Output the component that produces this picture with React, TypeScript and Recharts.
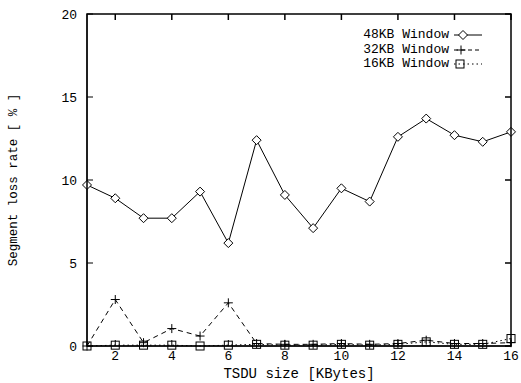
import React from "react";
import { LineChart, Line, XAxis, YAxis } from "recharts";

// TSDU sizes in KBytes
const sizes = [1, 2, 3, 4, 5, 6, 7, 8, 9, 10, 11, 12, 13, 14, 15, 16];
// Segment loss rate (%) per window size
const win48 = [9.7, 8.9, 7.7, 7.7, 9.3, 6.2, 12.4, 9.1, 7.1, 9.5, 8.7, 12.6, 13.7, 12.7, 12.3, 12.9];
const win32 = [0.0, 2.8, 0.2, 1.05, 0.6, 2.6, 0.15, 0.1, 0.1, 0.15, 0.1, 0.15, 0.35, 0.15, 0.15, 0.2];
const win16 = [0.0, 0.05, 0.05, 0.05, 0.0, 0.05, 0.1, 0.05, 0.05, 0.1, 0.05, 0.1, 0.25, 0.1, 0.1, 0.45];

const xTicks = [2, 4, 6, 8, 10, 12, 14, 16];
const yTicks = [0, 5, 10, 15, 20];
const xDomain = [1, 16];
const yDomain = [0, 20];

const data = sizes.map((s, i) => ({ x: s, w48: win48[i], w32: win32[i], w16: win16[i] }));

const FONT = "'Liberation Mono', 'DejaVu Sans Mono', monospace";

// chart geometry
const W = 521;
const H = 383;
const M = { top: 14, right: 10, bottom: 0, left: 0 };
const X_AXIS_H = 37;
const Y_AXIS_W = 87;
const plot = {
  left: M.left + Y_AXIS_W,
  right: W - M.right,
  top: M.top,
  bottom: H - M.bottom - X_AXIS_H,
};

const Diamond = ({ cx, cy }: any) => (
  <path
    d={`M${cx},${cy - 4.5} L${cx + 4.5},${cy} L${cx},${cy + 4.5} L${cx - 4.5},${cy} Z`}
    fill="#fff"
    stroke="#000"
    strokeWidth={1}
  />
);

const Plus = ({ cx, cy }: any) => (
  <path d={`M${cx - 4.5},${cy} H${cx + 4.5} M${cx},${cy - 4.5} V${cy + 4.5}`} stroke="#000" strokeWidth={1} fill="none" />
);

const Square = ({ cx, cy }: any) => (
  <rect x={cx - 4} y={cy - 4} width={8} height={8} fill="none" stroke="#000" strokeWidth={1} />
);

const legendRows = [
  { label: "48KB Window", dash: undefined, Marker: Diamond, mx: 10 },
  { label: "32KB Window", dash: "4 3", Marker: Plus, mx: 8 },
  { label: "16KB Window", dash: "1.5 3", Marker: Square, mx: 7 },
];

const LegendBox = () => (
  <div style={{ position: "absolute", top: 28, right: 38, fontFamily: FONT, fontSize: 13, color: "#000" }}>
    {legendRows.map((r) => (
      <div key={r.label} style={{ display: "flex", alignItems: "center", height: 14.5, justifyContent: "flex-end" }}>
        <span style={{ whiteSpace: "pre", lineHeight: "14px" }}>{r.label}</span>
        <svg width={30} height={12} style={{ marginLeft: 4 }}>
          <line x1={1} y1={6} x2={29} y2={6} stroke="#000" strokeWidth={1} strokeDasharray={r.dash} />
          <r.Marker cx={r.mx} cy={6} />
        </svg>
      </div>
    ))}
  </div>
);

// box around the plot, with inward ticks on the top and right edges
const Frame = () => {
  const sx = (v: number) => plot.left + ((v - xDomain[0]) / (xDomain[1] - xDomain[0])) * (plot.right - plot.left);
  const sy = (v: number) => plot.bottom - ((v - yDomain[0]) / (yDomain[1] - yDomain[0])) * (plot.bottom - plot.top);
  return (
    <svg width={W} height={H} style={{ position: "absolute", left: 0, top: 0, pointerEvents: "none", zIndex: 5 }}>
      <rect
        x={plot.left}
        y={plot.top}
        width={plot.right - plot.left}
        height={plot.bottom - plot.top}
        fill="none"
        stroke="#000"
        strokeWidth={1.5}
      />
      {xTicks.map((t) => (
        <line key={`tx-${t}`} x1={sx(t)} y1={plot.top} x2={sx(t)} y2={plot.top + 6} stroke="#000" strokeWidth={1.5} />
      ))}
      {yTicks.map((t) => (
        <line key={`ty-${t}`} x1={plot.right - 6} y1={sy(t)} x2={plot.right} y2={sy(t)} stroke="#000" strokeWidth={1.5} />
      ))}
    </svg>
  );
};

const App = () => {
  return (
    <div style={{ position: "absolute", left: 0, top: 0, width: W, height: H, background: "#fff" }}>
      <LineChart width={W} height={H} data={data} margin={M}>
        <XAxis
          type="number"
          dataKey="x"
          domain={xDomain}
          ticks={xTicks}
          height={X_AXIS_H}
          tickSize={-6}
          tickMargin={11}
          stroke="#000"
          tick={{ fill: "#000", fontFamily: FONT, fontSize: 13 }}
          label={{ value: "TSDU size [KBytes]", position: "insideBottom", offset: 5, fill: "#000", fontFamily: FONT, fontSize: 14 }}
        />
        <YAxis
          type="number"
          domain={yDomain}
          ticks={yTicks}
          width={Y_AXIS_W}
          tickSize={-6}
          tickMargin={16}
          stroke="#000"
          tick={{ fill: "#000", fontFamily: FONT, fontSize: 13 }}
          label={{
            value: "Segment loss rate [ % ]",
            angle: -90,
            position: "insideLeft",
            offset: 13,
            style: { textAnchor: "middle" },
            fill: "#000",
            fontFamily: FONT,
            fontSize: 12.5,
          }}
        />
        <Line
          dataKey="w48"
          stroke="#000"
          strokeWidth={1}
          isAnimationActive={false}
          dot={(p: any) => <Diamond key={`d48-${p.index}`} cx={p.cx} cy={p.cy} />}
        />
        <Line
          dataKey="w32"
          stroke="#000"
          strokeWidth={1}
          strokeDasharray="5 4"
          isAnimationActive={false}
          dot={(p: any) => <Plus key={`d32-${p.index}`} cx={p.cx} cy={p.cy} />}
        />
        <Line
          dataKey="w16"
          stroke="#000"
          strokeWidth={1}
          strokeDasharray="1.5 3"
          isAnimationActive={false}
          dot={(p: any) => <Square key={`d16-${p.index}`} cx={p.cx} cy={p.cy} />}
        />
      </LineChart>
      <Frame />
      <LegendBox />
    </div>
  );
};

export default App;
